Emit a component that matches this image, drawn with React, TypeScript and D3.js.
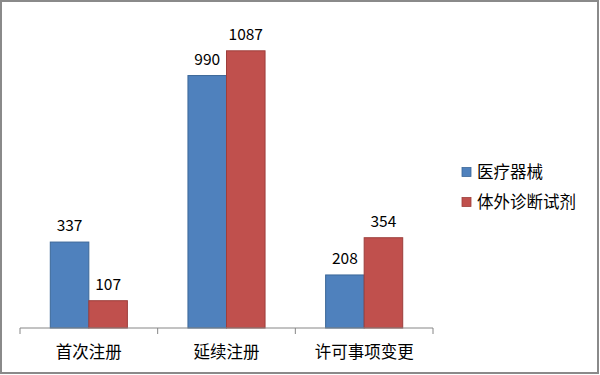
import * as d3 from "d3";

const categories = ["首次注册", "延续注册", "许可事项变更"];
const seriesNames = ["医疗器械", "体外诊断试剂"];
const deviceValues = [337, 990, 208];
const ivdValues = [107, 1087, 354];
const colors = ["#4F81BD", "#C0504D"];
const strokes = ["#3B6798", "#9D3E3B"];

const width = 600;
const height = 375;
const font = "'Noto Sans CJK SC', 'Noto Sans', sans-serif";

const App = () => {
  const x0 = d3.scaleBand<string>().domain(categories).range([20, 433]).padding(0);
  const bw = x0.bandwidth();
  const x1 = d3.scaleBand<string>().domain(seriesNames).range([bw * 0.22, bw * 0.78]).padding(0);
  const y = d3.scaleLinear().domain([0, 1200]).range([328, 22]);

  const series = [deviceValues, ivdValues];
  const ticks = [...categories.map((c) => x0(c) as number), 433];

  return (
    <svg
      width={width}
      height={height}
      style={{ position: "absolute", left: 0, top: 0, display: "block", background: "#fff" }}
      fontFamily={font}
    >
      <rect x={1} y={1} width={width - 3} height={height - 3} fill="#fff" stroke="#8a8a8a" strokeWidth={2} />

      {/* bars */}
      {categories.map((c, i) => (
        <g key={c} transform={`translate(${x0(c)},0)`}>
          {seriesNames.map((s, j) => {
            const v = series[j][i];
            const bx = x1(s) as number;
            return (
              <g key={s}>
                <rect
                  x={bx}
                  y={y(v)}
                  width={x1.bandwidth()}
                  height={y(0) - y(v)}
                  fill={colors[j]}
                  stroke={strokes[j]}
                  strokeWidth={1}
                />
                <text
                  x={bx + x1.bandwidth() / 2}
                  y={y(v) - 11}
                  textAnchor="middle"
                  fontSize={15.5}
                  fill="#000"
                >
                  {v}
                </text>
              </g>
            );
          })}
        </g>
      ))}

      {/* axis */}
      <line x1={20} x2={433} y1={328} y2={328} stroke="#868686" strokeWidth={1} />
      {ticks.map((t, i) => (
        <line key={i} x1={t} x2={t} y1={328} y2={334} stroke="#868686" strokeWidth={1} />
      ))}
      {categories.map((c) => (
        <text
          key={c}
          x={(x0(c) as number) + bw / 2}
          y={358}
          textAnchor="middle"
          fontSize={16.5}
          fill="#000"
        >
          {c}
        </text>
      ))}

      {/* legend */}
      {seriesNames.map((s, j) => (
        <g key={s} transform={`translate(462,${172 + j * 30})`}>
          <rect x={0} y={-4.5} width={9} height={9} fill={colors[j]} stroke={strokes[j]} strokeWidth={0.8} />
          <text x={15} y={6} fontSize={16.5} fill="#000">
            {s}
          </text>
        </g>
      ))}
    </svg>
  );
};

export default App;
